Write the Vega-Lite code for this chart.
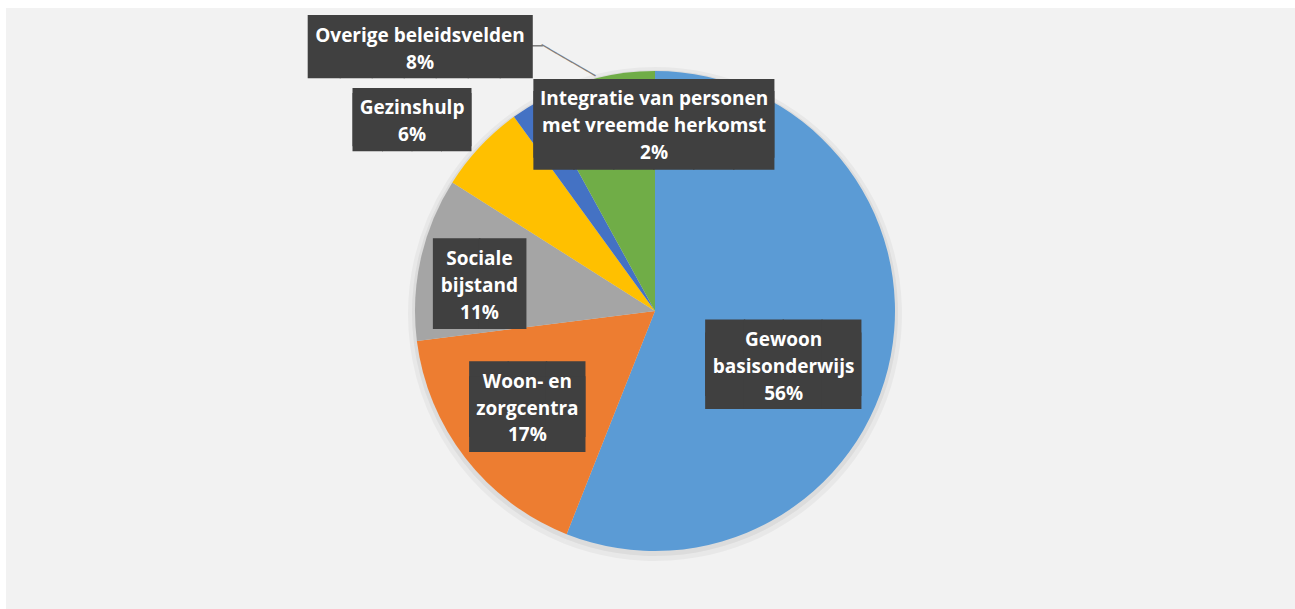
{
  "$schema": "https://vega.github.io/schema/vega-lite/v6.json",
  "autosize": {"type": "none"},
  "width": 1289,
  "height": 601,
  "padding": {"left": 6, "top": 8, "right": 0, "bottom": 0},
  "background": "#FFFFFF",
  "view": {"fill": "#F2F2F2", "stroke": null},
  "config": {"view": {"fill": "#F2F2F2", "stroke": null}},
  "data": {"values": [
    {"k": "Gewoon basisonderwijs", "value": 56, "order": 1, "label": "Gewoon\nbasisonderwijs\n56%"},
    {"k": "Woon- en zorgcentra", "value": 17, "order": 2, "label": "Woon- en\nzorgcentra\n17%"},
    {"k": "Sociale bijstand", "value": 11, "order": 3, "label": "Sociale\nbijstand\n11%"},
    {"k": "Gezinshulp", "value": 6, "order": 4, "label": "Gezinshulp\n6%"},
    {"k": "Integratie van personen met vreemde herkomst", "value": 2, "order": 5, "label": "Integratie van personen\nmet vreemde herkomst\n2%"},
    {"k": "Overige beleidsvelden", "value": 8, "order": 6, "label": "Overige beleidsvelden\n8%"}
  ]},
  "transform": [
    {"stack": "value", "groupby": [], "sort": [{"field": "order", "order": "ascending"}], "as": ["v0", "v1"]}
  ],
  "layer": [
    {
      "mark": {"type": "arc", "outerRadius": 247, "xOffset": 4.5, "yOffset": 5.5, "fill": "#000000", "opacity": 0.04, "stroke": null},
      "encoding": {"theta": {"field": "v0", "type": "quantitative", "scale": {"domain": [0, 100]}}, "theta2": {"field": "v1"}}
    },
    {
      "mark": {"type": "arc", "outerRadius": 243, "xOffset": 4.5, "yOffset": 4.5, "fill": "#000000", "opacity": 0.05, "stroke": null},
      "encoding": {"theta": {"field": "v0", "type": "quantitative", "scale": {"domain": [0, 100]}}, "theta2": {"field": "v1"}}
    },
    {
      "mark": {"type": "arc", "outerRadius": 240, "xOffset": 4.5, "yOffset": 2.5, "stroke": null},
      "encoding": {
        "theta": {"field": "v0", "type": "quantitative", "scale": {"domain": [0, 100]}},
        "theta2": {"field": "v1"},
        "color": {"field": "k", "type": "nominal", "legend": null,
          "scale": {"domain": ["Gewoon basisonderwijs", "Woon- en zorgcentra", "Sociale bijstand", "Gezinshulp", "Integratie van personen met vreemde herkomst", "Overige beleidsvelden"],
                    "range": ["#5B9BD5", "#ED7D31", "#A5A5A5", "#FFC000", "#4472C4", "#70AD47"]}}
      }
    },
    {
      "transform": [{"filter": "datum.order === 6"}, {"fold": ["v0", "v1"], "as": ["edge", "ang"]}, {"aggregate": [{"op": "mean", "field": "ang", "as": "mid"}], "groupby": ["order", "label"]}],
      "mark": {"type": "text", "radius": 242, "angle": 30, "xOffset": 4.5, "yOffset": 2.5, "font": "DejaVu Sans Mono", "fontSize": 14.7, "fill": "#7F7F7F", "align": "right", "baseline": "middle", "text": "───────"},
      "encoding": {"theta": {"field": "mid", "type": "quantitative", "stack": null, "scale": {"domain": [0, 100]}}}
    },
    {
      "transform": [{"filter": "datum.order === 6"}, {"fold": ["v0", "v1"], "as": ["edge", "ang"]}, {"aggregate": [{"op": "mean", "field": "ang", "as": "mid"}], "groupby": ["order", "label"]}],
      "mark": {"type": "text", "radius": 314, "dx": -34, "dy": 40.5, "xOffset": 4.5, "yOffset": 2.5, "font": "DejaVu Sans Mono", "fontSize": 18, "fill": "#7F7F7F", "align": "right", "baseline": "middle", "text": "─"},
      "encoding": {"theta": {"field": "mid", "type": "quantitative", "stack": null, "scale": {"domain": [0, 100]}}}
    },
    {
      "transform": [{"filter": "datum.order === 1"}, {"fold": ["v0", "v1"], "as": ["edge", "ang"]}, {"aggregate": [{"op": "mean", "field": "ang", "as": "mid"}], "groupby": ["order", "label"]}],
      "mark": {"type": "text", "radius": 136, "dx": -5, "dy": 25, "xOffset": 4.5, "yOffset": 2.5, "font": "DejaVu Sans Mono", "fontSize": 64.4, "lineHeight": 13, "lineBreak": "\n", "fill": "#404040", "align": "center", "baseline": "middle", "text": "████\n████"},
      "encoding": {"theta": {"field": "mid", "type": "quantitative", "stack": null, "scale": {"domain": [0, 100]}}}
    },
    {
      "transform": [{"filter": "datum.order === 2"}, {"fold": ["v0", "v1"], "as": ["edge", "ang"]}, {"aggregate": [{"op": "mean", "field": "ang", "as": "mid"}], "groupby": ["order", "label"]}],
      "mark": {"type": "text", "radius": 159, "dx": -2, "dy": -6.4, "xOffset": 4.5, "yOffset": 2.5, "font": "DejaVu Sans Mono", "fontSize": 63.7, "lineHeight": 14.9, "lineBreak": "\n", "fill": "#404040", "align": "center", "baseline": "middle", "text": "███\n███"},
      "encoding": {"theta": {"field": "mid", "type": "quantitative", "stack": null, "scale": {"domain": [0, 100]}}}
    },
    {
      "transform": [{"filter": "datum.order === 3"}, {"fold": ["v0", "v1"], "as": ["edge", "ang"]}, {"aggregate": [{"op": "mean", "field": "ang", "as": "mid"}], "groupby": ["order", "label"]}],
      "mark": {"type": "text", "radius": 177, "dx": -2.8, "dy": 15.1, "xOffset": 4.5, "yOffset": 2.5, "font": "DejaVu Sans Mono", "fontSize": 76.5, "fill": "#404040", "align": "center", "baseline": "middle", "text": "██"},
      "encoding": {"theta": {"field": "mid", "type": "quantitative", "stack": null, "scale": {"domain": [0, 100]}}}
    },
    {
      "transform": [{"filter": "datum.order === 4"}, {"fold": ["v0", "v1"], "as": ["edge", "ang"]}, {"aggregate": [{"op": "mean", "field": "ang", "as": "mid"}], "groupby": ["order", "label"]}],
      "mark": {"type": "text", "radius": 309, "dx": -17.7, "dy": 19.25, "xOffset": 4.5, "yOffset": 2.5, "font": "DejaVu Sans Mono", "fontSize": 49, "lineHeight": 5, "lineBreak": "\n", "fill": "#404040", "align": "center", "baseline": "middle", "text": "████\n████"},
      "encoding": {"theta": {"field": "mid", "type": "quantitative", "stack": null, "scale": {"domain": [0, 100]}}}
    },
    {
      "transform": [{"filter": "datum.order === 5"}, {"fold": ["v0", "v1"], "as": ["edge", "ang"]}, {"aggregate": [{"op": "mean", "field": "ang", "as": "mid"}], "groupby": ["order", "label"]}],
      "mark": {"type": "text", "radius": 158, "dx": 83.7, "dy": -56.65, "xOffset": 4.5, "yOffset": 2.5, "font": "DejaVu Sans Mono", "fontSize": 66.4, "lineHeight": 12.2, "lineBreak": "\n", "fill": "#404040", "align": "center", "baseline": "middle", "text": "██████\n██████"},
      "encoding": {"theta": {"field": "mid", "type": "quantitative", "stack": null, "scale": {"domain": [0, 100]}}}
    },
    {
      "transform": [{"filter": "datum.order === 6"}, {"fold": ["v0", "v1"], "as": ["edge", "ang"]}, {"aggregate": [{"op": "mean", "field": "ang", "as": "mid"}], "groupby": ["order", "label"]}],
      "mark": {"type": "text", "radius": 314, "dx": -156.9, "dy": 42.55, "xOffset": 4.5, "yOffset": 2.5, "font": "DejaVu Sans Mono", "fontSize": 53.2, "fill": "#404040", "align": "center", "baseline": "middle", "text": "███████"},
      "encoding": {"theta": {"field": "mid", "type": "quantitative", "stack": null, "scale": {"domain": [0, 100]}}}
    },
    {
      "transform": [{"filter": "datum.order === 1"}, {"fold": ["v0", "v1"], "as": ["edge", "ang"]}, {"aggregate": [{"op": "mean", "field": "ang", "as": "mid"}], "groupby": ["order", "label"]}],
      "mark": {"type": "text", "radius": 136, "dx": -5, "dy": 4, "xOffset": 4.5, "yOffset": 2.5, "font": "Open Sans", "fontWeight": "bold", "fontSize": 19, "lineHeight": 26.7, "lineBreak": "\n", "fill": "#FFFFFF", "align": "center", "baseline": "middle"},
      "encoding": {"theta": {"field": "mid", "type": "quantitative", "stack": null, "scale": {"domain": [0, 100]}}, "text": {"field": "label", "type": "nominal"}}
    },
    {
      "transform": [{"filter": "datum.order === 2"}, {"fold": ["v0", "v1"], "as": ["edge", "ang"]}, {"aggregate": [{"op": "mean", "field": "ang", "as": "mid"}], "groupby": ["order", "label"]}],
      "mark": {"type": "text", "radius": 159, "dx": -2, "dy": -26.4, "xOffset": 4.5, "yOffset": 2.5, "font": "Open Sans", "fontWeight": "bold", "fontSize": 19, "lineHeight": 26.7, "lineBreak": "\n", "fill": "#FFFFFF", "align": "center", "baseline": "middle"},
      "encoding": {"theta": {"field": "mid", "type": "quantitative", "stack": null, "scale": {"domain": [0, 100]}}, "text": {"field": "label", "type": "nominal"}}
    },
    {
      "transform": [{"filter": "datum.order === 3"}, {"fold": ["v0", "v1"], "as": ["edge", "ang"]}, {"aggregate": [{"op": "mean", "field": "ang", "as": "mid"}], "groupby": ["order", "label"]}],
      "mark": {"type": "text", "radius": 177, "dx": -2.8, "dy": -12.9, "xOffset": 4.5, "yOffset": 2.5, "font": "Open Sans", "fontWeight": "bold", "fontSize": 19, "lineHeight": 26.7, "lineBreak": "\n", "fill": "#FFFFFF", "align": "center", "baseline": "middle"},
      "encoding": {"theta": {"field": "mid", "type": "quantitative", "stack": null, "scale": {"domain": [0, 100]}}, "text": {"field": "label", "type": "nominal"}}
    },
    {
      "transform": [{"filter": "datum.order === 4"}, {"fold": ["v0", "v1"], "as": ["edge", "ang"]}, {"aggregate": [{"op": "mean", "field": "ang", "as": "mid"}], "groupby": ["order", "label"]}],
      "mark": {"type": "text", "radius": 309, "dx": -17.7, "dy": 8.35, "xOffset": 4.5, "yOffset": 2.5, "font": "Open Sans", "fontWeight": "bold", "fontSize": 19, "lineHeight": 26.7, "lineBreak": "\n", "fill": "#FFFFFF", "align": "center", "baseline": "middle"},
      "encoding": {"theta": {"field": "mid", "type": "quantitative", "stack": null, "scale": {"domain": [0, 100]}}, "text": {"field": "label", "type": "nominal"}}
    },
    {
      "transform": [{"filter": "datum.order === 5"}, {"fold": ["v0", "v1"], "as": ["edge", "ang"]}, {"aggregate": [{"op": "mean", "field": "ang", "as": "mid"}], "groupby": ["order", "label"]}],
      "mark": {"type": "text", "radius": 158, "dx": 83.7, "dy": -78.1, "xOffset": 4.5, "yOffset": 2.5, "font": "Open Sans", "fontWeight": "bold", "fontSize": 19, "lineHeight": 26.7, "lineBreak": "\n", "fill": "#FFFFFF", "align": "center", "baseline": "middle"},
      "encoding": {"theta": {"field": "mid", "type": "quantitative", "stack": null, "scale": {"domain": [0, 100]}}, "text": {"field": "label", "type": "nominal"}}
    },
    {
      "transform": [{"filter": "datum.order === 6"}, {"fold": ["v0", "v1"], "as": ["edge", "ang"]}, {"aggregate": [{"op": "mean", "field": "ang", "as": "mid"}], "groupby": ["order", "label"]}],
      "mark": {"type": "text", "radius": 314, "dx": -156.9, "dy": 28.95, "xOffset": 4.5, "yOffset": 2.5, "font": "Open Sans", "fontWeight": "bold", "fontSize": 19, "lineHeight": 26.7, "lineBreak": "\n", "fill": "#FFFFFF", "align": "center", "baseline": "middle"},
      "encoding": {"theta": {"field": "mid", "type": "quantitative", "stack": null, "scale": {"domain": [0, 100]}}, "text": {"field": "label", "type": "nominal"}}
    }
  ]
}
